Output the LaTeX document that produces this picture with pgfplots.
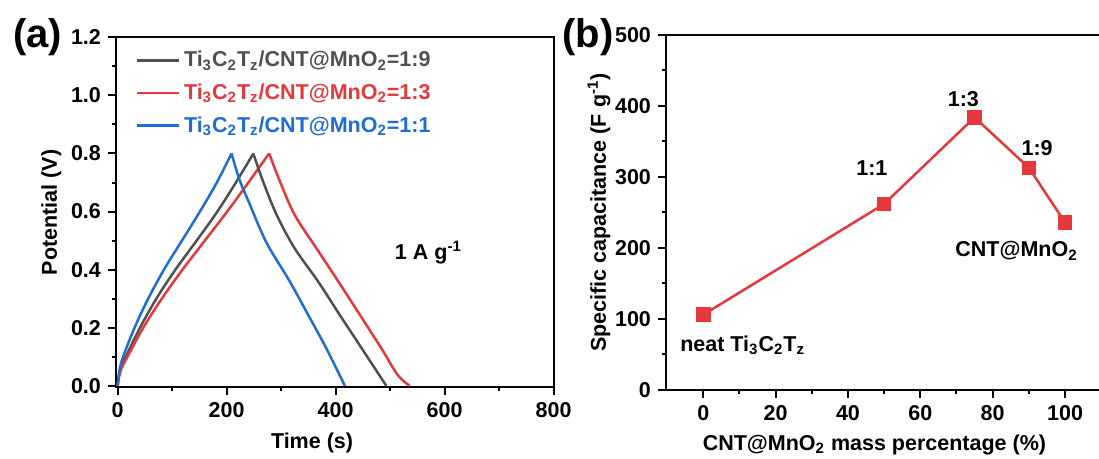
\documentclass[border=0pt]{standalone}
\usepackage{fontspec}
\setmainfont{Liberation Sans}
\usepackage{pgfplots}
\pgfplotsset{compat=1.18}
\definecolor{cgray}{RGB}{80,80,80}
\definecolor{cred}{RGB}{230,55,60}
\definecolor{cblue}{RGB}{30,110,210}
\newcommand{\fs}{\fontsize{10.75}{12}\selectfont\bfseries}
\pgfplotsset{myaxis/.style={
  scale only axis,
  axis line style={line width=1pt},
  tick align=outside, xtick pos=bottom, ytick pos=left,
  major tick length=4pt, minor tick length=2pt,
  every tick/.style={line width=1pt, black},
  tick label style={font=\fs},
  label style={font=\fs},
  /pgf/number format/assume math mode=true,
}}
\begin{document}
\begin{tikzpicture}
\useasboundingbox (0,0) rectangle (549.5pt,-229.5pt);
\node[font=\fontsize{20}{24}\selectfont\bfseries] at (18.75pt,-18.5pt) {(a)};
\node[font=\fontsize{20}{24}\selectfont\bfseries] at (294pt,-18.5pt) {(b)};
\begin{axis}[myaxis,
  at={(58pt,-193.65pt)}, anchor=south west,
  width=218.8pt, height=175pt,
  xmin=-3, xmax=800, ymin=-0.005, ymax=1.2,
  xtick={0,200,400,600,800}, ytick={0,0.2,0.4,0.6,0.8,1.0,1.2},
  minor x tick num=1, minor y tick num=1,
  yticklabel style={/pgf/number format/.cd, fixed, fixed zerofill, precision=1},
  xlabel={Time (s)}, ylabel={Potential (V)},
  xlabel style={at={(axis description cs:0.448,-0.16)}, anchor=center},
  ylabel style={at={(axis description cs:-0.148,0.5)}, anchor=center},
  legend style={at={(axis description cs:0.03,0.984)}, anchor=north west,
    draw=none, fill=none, font=\fs, row sep=3pt},
  legend cell align=left,
  legend image code/.code={\draw[#1, line width=1.25pt] (0pt,0pt) -- (21pt,0pt);},
]
\addplot[cgray, line width=1.25pt, smooth, tension=0.55] coordinates {
(0,0) (2,0.03) (6,0.06) (15,0.1) (41,0.2) (71,0.3) (106,0.4) (145,0.5) (183,0.6) (217,0.7) (249,0.8)};
\addlegendentry{\textcolor{cgray}{Ti\textsubscript{3}C\textsubscript{2}T\textsubscript{z}/CNT@MnO\textsubscript{2}=1:9}}
\addplot[cred, line width=1.25pt, smooth, tension=0.55] coordinates {
(0,0) (2.5,0.03) (7,0.06) (18,0.1) (47,0.2) (81,0.3) (119,0.4) (160,0.5) (201,0.6) (240,0.7) (278,0.8)};
\addlegendentry{\textcolor{cred}{Ti\textsubscript{3}C\textsubscript{2}T\textsubscript{z}/CNT@MnO\textsubscript{2}=1:3}}
\addplot[cblue, line width=1.25pt, smooth, tension=0.55] coordinates {
(0,0) (1.5,0.03) (4,0.06) (10,0.1) (31,0.2) (56,0.3) (85,0.4) (118,0.5) (151,0.6) (182,0.7) (209,0.8)};
\addlegendentry{\textcolor{cblue}{Ti\textsubscript{3}C\textsubscript{2}T\textsubscript{z}/CNT@MnO\textsubscript{2}=1:1}}
\addplot[cgray, line width=1.25pt, smooth, tension=0.55, forget plot] coordinates {
(249,0.8) (267,0.703) (292,0.588) (325,0.473) (368,0.359) (408,0.243) (448,0.129) (493,0.0)};
\addplot[cred, line width=1.25pt, smooth, tension=0.55, forget plot] coordinates {
(278,0.8) (298,0.703) (325,0.588) (365,0.473) (405,0.359) (445,0.243) (484,0.129) (514,0.037) (536,0.0)};
\addplot[cblue, line width=1.25pt, smooth, tension=0.55, forget plot] coordinates {
(209,0.8) (224,0.708) (243,0.623) (261,0.542) (279,0.473) (316,0.359) (350,0.243) (383,0.129) (417,0.0)};
\node[font=\fs, anchor=west] at (axis cs:496,0.46) {1 A g\textsuperscript{-1}};
\end{axis}
\begin{axis}[myaxis,
  at={(333pt,-195pt)}, anchor=south west,
  width=217.6pt, height=177.5pt,
  xmin=-10.3, xmax=110, ymin=0, ymax=500,
  xtick={0,20,40,60,80,100}, ytick={0,100,200,300,400,500},
  minor x tick num=1, minor y tick num=1,
  xlabel={CNT@MnO\textsubscript{2} mass percentage (\%)},
  ylabel={Specific capacitance (F g\textsuperscript{-1})},
  xlabel style={at={(axis description cs:0.479,-0.155)}, anchor=center},
  ylabel style={at={(axis description cs:-0.154,0.5)}, anchor=center},
]
\addplot[cred, line width=1.25pt, mark=square*, mark size=3pt, mark options={solid, fill=cred, draw=cred}] coordinates {
(0,106) (50,262) (75,384) (90,313) (100,236)};
\node[font=\fs] at (axis cs:46.6,312) {1:1};
\node[font=\fs] at (axis cs:71.9,410) {1:3};
\node[font=\fs] at (axis cs:92.3,340) {1:9};
\node[font=\fs] at (axis cs:86.6,196) {CNT@MnO\textsubscript{2}};
\node[font=\fs] at (axis cs:10.9,63) {neat Ti\textsubscript{3}C\textsubscript{2}T\textsubscript{z}};
\end{axis}
\end{tikzpicture}
\end{document}
